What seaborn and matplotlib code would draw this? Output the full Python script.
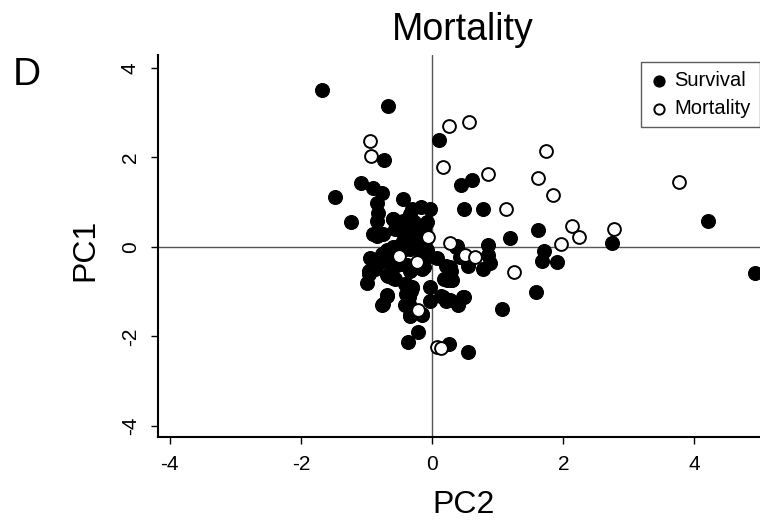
import pandas as pd
import seaborn as sns
import matplotlib.pyplot as plt

# PCA scores: (PC2, PC1) per patient
survival_pc2 = [-1.68, -0.67, 0.10, -0.74, -1.08, -1.48, -0.90, -0.77, -0.45, -0.84,
                -0.82, -1.24, -0.84, -0.90, -0.84, -0.59, -0.51, -0.45, -0.37, -0.30,
                -0.17, -0.03, -0.11, -0.21, -0.34, -0.23, -0.13, -0.69, -0.62, -0.74,
                -0.51, -0.44, -0.94, -0.97, -1.00, -0.87, -0.69, -0.59, -0.54, -0.39,
                -0.23, -0.13, -0.08, 0.07, -0.39, -0.31, -0.36, -0.03, -0.03, -0.69,
                -0.77, -0.41, -0.34, -0.16, -0.21, -0.37, 0.25, 0.55, 0.27, 0.22,
                0.30, 0.17, 0.27, 0.40, 0.48, 0.38, 0.43, 0.55, 0.44, 0.61,
                0.48, 0.77, 0.77, 0.89, 0.85, 0.85, 1.19, 1.62, 1.71, 1.67,
                1.90, 1.59, 1.06, 2.75, 4.21, 4.92,
                -0.60, -0.45, -0.56, -0.34, -0.27, -0.12, -0.08, -0.38, -0.30, -0.45,
                -0.67, -0.75, -0.60, -0.67, -0.56, -0.45, -0.34, -0.23, -0.15, -0.08,
                -0.15, -0.41, -0.32, -0.76, -0.89, -0.97, -0.60, -0.49, -0.34, -0.23,
                -0.75, 0.14, 0.21, 0.36, 0.21, 0.29, 0.18, 0.29, 0.40, 0.47,
                -0.75, -0.69, -0.15, -0.34, -0.35, -0.30, -0.40]
survival_pc1 = [3.50, 3.14, 2.38, 1.95, 1.42, 1.12, 1.31, 1.20, 1.07, 0.98,
                0.76, 0.55, 0.57, 0.29, 0.25, 0.62, 0.40, 0.58, 0.33, 0.85,
                0.90, 0.84, 0.48, 0.28, 0.14, -0.03, 0.02, -0.07, -0.14, -0.22,
                0.02, -0.07, -0.25, -0.55, -0.80, -0.50, -0.62, -0.70, -0.40, -0.40,
                -0.46, -0.44, -0.22, -0.25, -0.85, -0.93, -1.11, -0.89, -1.20, -1.08,
                -1.30, -1.30, -1.52, -1.52, -1.91, -2.13, -2.16, -2.36, -0.44, -0.74,
                -0.74, -1.11, -1.18, -1.30, -1.11, 0.01, -0.22, -0.42, 1.39, 1.50,
                0.84, 0.84, -0.49, -0.36, -0.19, 0.04, 0.19, 0.38, -0.10, -0.31,
                -0.34, -1.00, -1.39, 0.09, 0.59, -0.59,
                0.63, 0.52, 0.40, 0.74, 0.55, 0.37, 0.55, 0.22, 0.00, 0.14,
                -0.16, -0.31, -0.46, -0.64, -0.72, -0.38, -0.53, -0.38, -0.23, -0.08,
                -0.49, -0.83, -0.98, -0.16, -0.46, -0.61, -0.01, 0.03, -0.04, 0.14,
                0.29, -1.09, -1.20, -0.01, -0.42, -0.53, -0.72, -0.74, -1.28, -1.11,
                -1.28, -1.09, -1.50, -1.54, -1.28, -0.90, -1.05]

mortality_pc2 = [-0.94, -0.93, 0.26, 0.57, 0.17, 0.85, 1.73, 1.61, 1.85, 1.12,
                 3.76, 2.13, 2.24, 2.77, 1.97, 1.25, 0.27, 0.50, 0.66, 0.07,
                 0.13, -0.06, -0.51, -0.23, -0.21]
mortality_pc1 = [2.36, 2.03, 2.70, 2.79, 1.79, 1.62, 2.15, 1.53, 1.15, 0.85,
                 1.44, 0.47, 0.23, 0.40, 0.07, -0.57, 0.08, -0.18, -0.22, -2.23,
                 -2.26, 0.22, -0.20, -0.34, -1.42]

surv = pd.DataFrame({'PC2': survival_pc2, 'PC1': survival_pc1})
mort = pd.DataFrame({'PC2': mortality_pc2, 'PC1': mortality_pc1})

sns.set_theme(style='white')
plt.rcParams['font.family'] = ['Liberation Sans', 'DejaVu Sans']
plt.rcParams['text.color'] = 'black'
plt.rcParams['axes.labelcolor'] = 'black'
plt.rcParams['xtick.color'] = 'black'
plt.rcParams['ytick.color'] = 'black'

fig = plt.figure(figsize=(7.6, 5.25), dpi=100)
ax = fig.add_axes([158 / 760, 88 / 525, 602 / 760, 382 / 525])

# reference lines through the origin
ax.axhline(0, color='#555555', lw=1, zorder=1)
ax.axvline(0, color='#555555', lw=1, zorder=1)

sns.scatterplot(data=surv, x='PC2', y='PC1', ax=ax, s=100, color='black',
                edgecolor='black', linewidth=0.8, label='Survival', zorder=2)
sns.scatterplot(data=mort, x='PC2', y='PC1', ax=ax, s=85, facecolor='white',
                edgecolor='black', linewidth=1.4, label='Mortality', zorder=3)

ax.set_xlim(-4.18, 5.0)
ax.set_ylim(-4.25, 4.29)
ax.set_xticks([-4, -2, 0, 2, 4])
ax.set_yticks([-4, -2, 0, 2, 4])
ax.set_xticklabels(['-4', '-2', '0', '2', '4'])
ax.set_yticklabels(['-4', '-2', '0', '2', '4'], rotation=90, va='center')

for side in ['top', 'right']:
    ax.spines[side].set_visible(False)
for side in ['left', 'bottom']:
    ax.spines[side].set_color('black')
    ax.spines[side].set_linewidth(1.5)
ax.tick_params(direction='out', length=5, width=1, color='black',
               labelsize=15, pad=8, left=True, bottom=True)

ax.set_xlabel('PC2', fontsize=23)
ax.set_ylabel('PC1', fontsize=23)
ax.xaxis.set_label_coords(0.507, -0.14)
ax.yaxis.set_label_coords(-0.095, 0.49)

fig.text(463 / 760, 1 - 30 / 525, 'Mortality', fontsize=27, ha='center', va='center')
fig.text(27 / 760, 1 - 75 / 525, 'D', fontsize=28, ha='center', va='center')

leg = ax.legend(loc='upper left', bbox_to_anchor=(641 / 760, 1 - 62 / 525),
                bbox_transform=fig.transFigure, borderaxespad=0, fontsize=14.5,
                frameon=True, fancybox=False, edgecolor='#333333', borderpad=0.45,
                handletextpad=0.3, handlelength=0.9, labelspacing=0.45,
                markerscale=0.8)
leg.get_frame().set_linewidth(1)

fig.savefig('out.png', dpi=100)
